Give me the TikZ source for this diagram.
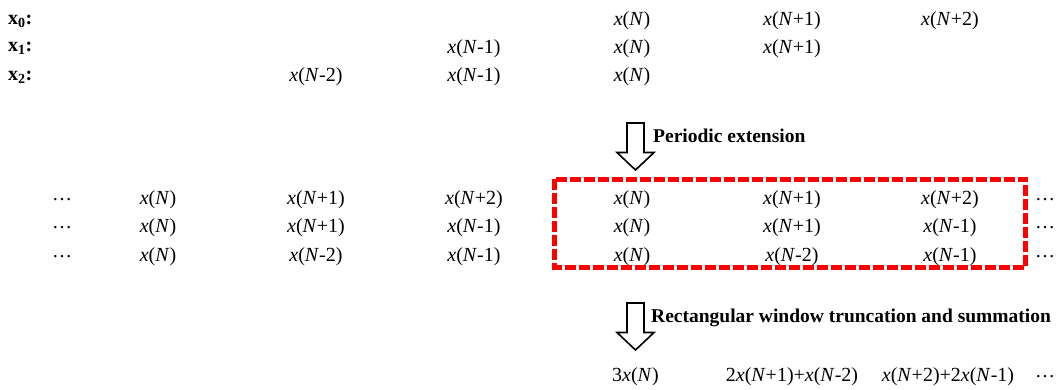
\documentclass[tikz,border=0pt]{standalone}
\usepackage{fontspec}
\setmainfont{Liberation Serif}
\newcommand{\xn}[1]{\textit{x}(\textit{N}#1)}
\newcommand{\blockarrow}[2]{%
  \draw[line width=1.6pt, line join=miter] (627,#1) -- (644,#1) -- (644,#2) -- (654,#2)
    -- (635.5,{#2+17.5}) -- (617,#2) -- (627,#2) -- cycle;}
\begin{document}
\begin{tikzpicture}[x=1pt, y=-1pt,
    every node/.style={font=\fontsize{20}{24}\selectfont, inner sep=0pt}]
  \useasboundingbox (0,0) rectangle (1061,390);
  % input sequences
  \node[anchor=west] (lab0) at (8,21) {\textbf{x\textsubscript{0}:}};
  \node[anchor=west] (lab1) at (8,48.5) {\textbf{x\textsubscript{1}:}};
  \node[anchor=west] (lab2) at (8,77) {\textbf{x\textsubscript{2}:}};
  \node (a02) at (632,21) {\xn{}};
  \node (a03) at (792,21) {\xn{+1}};
  \node (a04) at (950,21) {\xn{+2}};
  \node (a11) at (474,48.5) {\xn{-1}};
  \node (a12) at (632,48.5) {\xn{}};
  \node (a13) at (792,48.5) {\xn{+1}};
  \node (a20) at (316,77) {\xn{-2}};
  \node (a21) at (474,77) {\xn{-1}};
  \node (a22) at (632,77) {\xn{}};
  % periodic extension
  \blockarrow{123}{152.5}
  \node[anchor=base west, font=\fontsize{19.5}{22}\selectfont\bfseries] (ext) at (653,143) {Periodic extension};
  \node (d0) at (62,200) {\dots};
  \node (d1) at (62,228) {\dots};
  \node (d2) at (62,256.5) {\dots};
  \node (b00) at (158,200) {\xn{}};
  \node (b01) at (316,200) {\xn{+1}};
  \node (b02) at (474,200) {\xn{+2}};
  \node (b03) at (632,200) {\xn{}};
  \node (b04) at (792,200) {\xn{+1}};
  \node (b05) at (950,200) {\xn{+2}};
  \node (b10) at (158,228) {\xn{}};
  \node (b11) at (316,228) {\xn{+1}};
  \node (b12) at (474,228) {\xn{-1}};
  \node (b13) at (632,228) {\xn{}};
  \node (b14) at (792,228) {\xn{+1}};
  \node (b15) at (950,228) {\xn{-1}};
  \node (b20) at (158,256.5) {\xn{}};
  \node (b21) at (316,256.5) {\xn{-2}};
  \node (b22) at (474,256.5) {\xn{-1}};
  \node (b23) at (632,256.5) {\xn{}};
  \node (b24) at (792,256.5) {\xn{-2}};
  \node (b25) at (950,256.5) {\xn{-1}};
  \node (e0) at (1045,200) {\dots};
  \node (e1) at (1045,228) {\dots};
  \node (e2) at (1045,256.5) {\dots};
  % window
  \draw[red, line width=5pt, dash pattern=on 11pt off 3pt] (554.5,179.5) rectangle (1025.5,267.5);
  % truncation and summation
  \blockarrow{303}{332.5}
  \node[anchor=base west, font=\fontsize{19.5}{22}\selectfont\bfseries] (sum) at (651,322.5) {Rectangular window truncation and summation};
  \node[anchor=west] (c0) at (612,376.5) {3\textit{x}(\textit{N})};
  \node (c1) at (792,376.5) {2\xn{+1}+\xn{-2}};
  \node (c2) at (948,376.5) {\xn{+2}+2\xn{-1}};
  \node (c3) at (1045,376.5) {\dots};
\end{tikzpicture}
\end{document}
